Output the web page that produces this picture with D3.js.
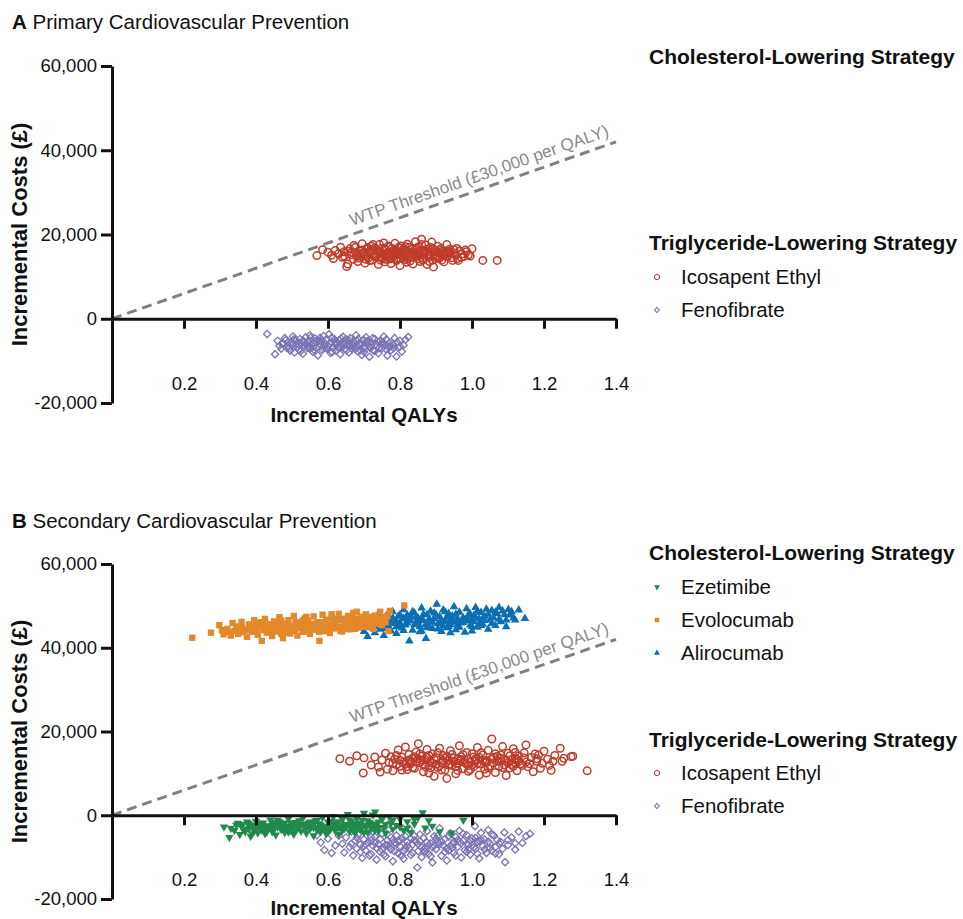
<!DOCTYPE html>
<html>
<head>
<meta charset="utf-8">
<style>
  body { margin: 0; background: #fff; }
  svg text { font-family: "Liberation Sans", Arial, sans-serif; fill: #111; }
  .axis path, .axis line { stroke: #111; stroke-width: 3; }
  .axis text { font-size: 18.5px; }
  .axis-title { font-size: 20.5px; font-weight: bold; }
  .y-title { font-size: 22px; }
  .panel-title { font-size: 20.5px; }
  .legend-head { font-size: 21px; font-weight: bold; }
  .legend-item { font-size: 20.5px; }
  .wtp-label { font-size: 17px; fill: #8a8a8a !important; }
</style>
<title></title>
</head>
<body>
<div id="chart"></div>
<script src="https://d3js.org/d3.v7.min.js"></script>
<script>
// ---- data (QALYs, costs in £ thousands) ----
var qalyTicks = [0.2, 0.4, 0.6, 0.8, 1.0, 1.2, 1.4];
var costTicks = [-20, 0, 20, 40, 60];
var wtpPerQaly = 30; // £30,000 per QALY
var wtpLabel = "WTP Threshold (£30,000 per QALY)";

// A: primary prevention
var primaryIcosapent = [
  [0.569,15.0],[0.585,16.4],[0.60,15.8],[0.61,15.1],[0.615,14.3],[0.62,16.2],[0.63,15.5],[0.635,17.0],[0.64,14.6],[0.645,15.9],
  [0.652,12.4],[0.655,13.0],[0.66,16.6],[0.665,15.2],[0.67,14.1],[0.672,17.4],[0.678,15.7],[0.683,13.6],[0.688,16.1],[0.69,14.8],
  [0.695,17.8],[0.70,15.3],[0.703,13.2],[0.708,16.5],[0.712,14.4],[0.715,15.9],[0.72,17.2],[0.722,13.9],[0.726,15.0],[0.73,16.8],
  [0.733,14.7],[0.737,15.6],[0.74,12.9],[0.743,17.6],[0.746,16.0],[0.75,14.2],[0.752,15.3],[0.755,18.0],[0.758,13.5],[0.76,16.4],
  [0.763,15.0],[0.766,14.6],[0.77,17.0],[0.772,15.8],[0.775,13.1],[0.778,16.7],[0.78,14.9],[0.783,15.5],[0.786,17.9],[0.79,13.8],
  [0.792,16.2],[0.795,14.4],[0.798,15.7],[0.80,12.6],[0.803,17.3],[0.806,15.1],[0.81,16.6],[0.812,14.0],[0.815,15.9],[0.818,13.4],
  [0.82,17.7],[0.823,15.4],[0.826,16.9],[0.83,14.5],[0.833,15.2],[0.836,13.0],[0.84,16.3],[0.843,18.3],[0.846,14.8],[0.85,15.6],
  [0.853,17.1],[0.856,13.6],[0.86,18.9],[0.862,16.0],[0.865,14.3],[0.868,15.3],[0.872,17.5],[0.875,12.9],[0.878,16.5],[0.88,14.7],
  [0.884,15.8],[0.888,18.2],[0.89,13.9],[0.893,12.3],[0.896,16.2],[0.90,15.0],[0.905,17.2],[0.91,14.4],[0.914,16.7],[0.918,15.4],
  [0.922,13.5],[0.926,16.0],[0.93,17.6],[0.934,14.9],[0.94,15.7],[0.946,13.85],[0.95,16.4],[0.955,15.1],[0.96,14.3],[0.962,13.85],
  [0.966,16.1],[0.972,15.4],[0.978,14.8],[0.985,15.9],[0.99,15.2],[1.0,16.6],[1.03,13.85],[1.07,13.85],
  [0.665,15.7],[0.68,14.9],[0.695,16.3],[0.705,14.1],[0.718,16.0],[0.728,14.9],[0.74,15.9],[0.748,14.8],[0.757,16.6],[0.765,15.6],
  [0.775,14.5],[0.782,16.2],[0.792,15.2],[0.80,16.8],[0.808,14.6],[0.817,16.3],[0.825,14.9],[0.835,16.6],[0.842,15.0],[0.852,14.2],
  [0.858,16.4],[0.867,15.8],[0.876,14.9],[0.885,16.9],[0.895,15.3],[0.903,14.6],[0.912,16.2],[0.92,14.9],[0.93,15.5],[0.938,16.5],
  [0.70,15.8],[0.735,16.4],[0.77,15.3],[0.805,15.8],[0.84,15.4],[0.87,16.2],[0.90,15.9],[0.76,14.1],[0.82,14.2],[0.88,15.2],
  [0.645,14.9],[0.655,16.0],[0.675,16.9],[0.685,14.4],[0.692,15.5],[0.71,16.9],[0.716,13.8],[0.724,16.3],[0.732,15.2],[0.745,13.9],
  [0.75,16.7],[0.762,15.3],[0.768,17.3],[0.773,14.2],[0.788,15.9],[0.796,16.9],[0.802,14.3],[0.811,15.4],[0.821,16.0],[0.828,13.7],
  [0.838,15.8],[0.848,16.9],[0.855,15.1],[0.863,13.9],[0.873,16.0],[0.882,13.6],[0.892,16.6],[0.898,14.2],[0.908,15.7],[0.916,13.9],
  [0.924,15.2],[0.935,16.0],[0.944,14.5],[0.952,15.6],[0.958,16.7],[0.97,14.6],[0.982,16.3],[0.995,14.9],[0.725,17.6],[0.815,17.1],
  [0.86,17.6],[0.79,14.1]
];
var primaryFenofibrate = [
  [0.431,-3.6],[0.453,-8.4],[0.46,-5.2],[0.465,-6.4],[0.47,-7.1],[0.475,-5.8],[0.48,-4.6],[0.485,-6.9],[0.49,-5.5],[0.495,-7.6],
  [0.50,-6.2],[0.503,-4.2],[0.507,-8.0],[0.51,-5.0],[0.514,-6.7],[0.518,-7.3],[0.522,-4.8],[0.526,-5.9],[0.53,-8.3],[0.534,-6.4],
  [0.538,-4.4],[0.542,-7.0],[0.546,-5.4],[0.55,-3.9],[0.553,-6.1],[0.557,-7.8],[0.56,-5.7],[0.564,-4.7],[0.568,-6.8],[0.572,-8.7],
  [0.575,-5.2],[0.58,-6.3],[0.584,-7.4],[0.588,-4.1],[0.592,-5.9],[0.596,-7.0],[0.60,-6.5],[0.603,-3.7],[0.607,-8.1],[0.61,-5.5],
  [0.614,-6.9],[0.618,-4.9],[0.622,-7.6],[0.626,-6.0],[0.63,-5.1],[0.634,-8.4],[0.638,-6.6],[0.642,-4.3],[0.646,-7.2],[0.65,-5.8],
  [0.654,-6.3],[0.658,-8.0],[0.662,-4.6],[0.666,-7.0],[0.67,-5.4],[0.674,-6.8],[0.678,-3.9],[0.682,-7.7],[0.686,-5.9],[0.69,-6.4],
  [0.694,-8.6],[0.698,-5.0],[0.702,-7.1],[0.706,-4.4],[0.71,-6.1],[0.715,-9.0],[0.72,-5.6],[0.725,-7.4],[0.73,-4.8],[0.735,-6.6],
  [0.74,-8.2],[0.745,-5.3],[0.75,-7.0],[0.755,-4.2],[0.76,-6.3],[0.765,-8.7],[0.77,-5.7],[0.775,-7.5],[0.78,-6.0],[0.785,-4.6],
  [0.79,-8.95],[0.795,-6.9],[0.80,-5.2],[0.805,-7.8],[0.81,-6.3],[0.815,-5.0],[0.823,-4.35],
  [0.50,-5.6],[0.52,-6.3],[0.54,-5.9],[0.56,-6.6],[0.58,-5.4],[0.60,-7.2],[0.62,-6.1],[0.64,-5.6],[0.66,-6.2],[0.68,-5.2],
  [0.70,-6.7],[0.72,-6.2],[0.74,-5.6],[0.76,-7.2],[0.55,-7.1],[0.59,-6.6],[0.63,-7.0],[0.67,-6.0],[0.71,-5.3],[0.75,-6.1],
  [0.57,-5.1],[0.61,-4.5],[0.65,-4.9],[0.69,-7.5],[0.73,-7.7],[0.53,-5.1],[0.49,-6.5],[0.77,-6.8],
  [0.472,-6.0],[0.482,-5.1],[0.492,-7.0],[0.505,-4.9],[0.512,-6.0],[0.524,-7.7],[0.532,-5.5],[0.545,-6.5],[0.552,-4.5],[0.562,-7.4],
  [0.566,-5.4],[0.578,-4.5],[0.586,-6.9],[0.594,-5.0],[0.605,-6.0],[0.612,-7.9],[0.62,-5.5],[0.628,-6.7],[0.636,-4.7],[0.644,-6.0],
  [0.652,-7.5],[0.66,-5.2],[0.668,-6.5],[0.676,-7.2],[0.684,-4.8],[0.692,-5.8],[0.70,-7.9],[0.708,-5.4],[0.716,-6.8],[0.724,-4.6],
  [0.732,-6.0],[0.742,-7.0],[0.752,-5.5],[0.762,-4.9],[0.772,-6.4],[0.782,-7.0],[0.792,-5.6],[0.80,-6.6]
];

// B: secondary prevention
var secondaryIcosapent = [
  [0.633,13.5],[0.66,12.9],[0.68,14.2],[0.698,10.1],[0.70,13.7],[0.72,12.0],[0.73,13.9],[0.74,11.5],[0.745,10.3],[0.75,13.2],
  [0.76,14.8],[0.765,11.0],[0.77,12.6],[0.775,14.0],[0.78,10.6],[0.785,13.4],[0.79,12.1],[0.795,15.6],[0.80,11.7],[0.805,13.9],
  [0.81,12.8],[0.815,16.3],[0.82,10.9],[0.825,14.5],[0.83,12.3],[0.835,13.6],[0.84,11.2],[0.845,15.1],[0.851,17.1],[0.855,12.6],
  [0.86,14.1],[0.865,10.4],[0.87,13.3],[0.875,15.7],[0.88,11.8],[0.885,12.9],[0.89,14.6],[0.895,9.3],[0.90,13.8],[0.905,11.4],
  [0.91,16.0],[0.915,12.5],[0.92,14.3],[0.925,10.8],[0.93,8.8],[0.935,13.1],[0.94,15.4],[0.945,11.9],[0.95,13.7],[0.955,9.9],
  [0.96,12.4],[0.965,16.6],[0.97,14.0],[0.975,11.1],[0.98,13.2],[0.985,15.0],[0.99,10.5],[0.995,12.7],[1.0,14.7],[1.005,11.6],
  [1.01,13.5],[1.015,16.2],[1.02,9.6],[1.025,12.2],[1.03,14.4],[1.035,11.0],[1.04,13.0],[1.045,15.5],[1.055,18.2],[1.06,12.5],
  [1.065,10.2],[1.07,14.1],[1.075,11.7],[1.08,13.6],[1.085,16.4],[1.09,12.0],[1.095,9.5],[1.10,14.8],[1.105,11.3],[1.11,13.2],
  [1.115,15.9],[1.12,12.6],[1.125,10.6],[1.13,14.2],[1.14,11.9],[1.145,13.7],[1.15,16.8],[1.16,12.3],[1.17,10.4],[1.175,14.6],
  [1.18,12.9],[1.19,11.2],[1.20,15.3],[1.21,13.4],[1.22,10.7],[1.23,14.3],[1.245,16.0],[1.25,12.9],[1.255,13.6],[1.275,14.0],
  [1.28,14.1],[1.32,10.6],
  [0.80,13.1],[0.83,12.8],[0.86,13.2],[0.89,12.4],[0.92,13.1],[0.95,12.8],[0.98,12.6],[1.01,12.9],[1.04,12.6],[1.07,13.0],
  [1.10,12.5],[1.13,12.9],[0.84,14.0],[0.87,11.6],[0.90,12.2],[0.93,14.1],[0.96,13.5],[0.99,11.9],[1.02,13.8],[1.05,11.8],
  [1.08,14.4],[1.11,12.1],[0.82,11.6],[0.85,13.5],[0.88,14.3],[0.91,11.8],[0.94,12.2],[0.97,13.3],[1.0,12.0],[1.03,13.1],
  [1.06,13.8],[1.09,13.4],[1.12,13.6],[0.78,12.4],[1.15,12.7],[1.18,13.5],
  [0.79,14.3],[0.805,10.8],[0.815,12.2],[0.825,13.2],[0.835,11.4],[0.845,12.9],[0.855,14.6],[0.865,12.1],[0.875,13.8],[0.885,11.3],
  [0.895,13.4],[0.905,14.9],[0.915,10.8],[0.925,13.6],[0.935,12.0],[0.945,14.5],[0.955,11.7],[0.965,13.0],[0.975,14.5],[0.985,12.2],
  [0.995,10.9],[1.005,13.9],[1.015,12.4],[1.025,14.9],[1.035,12.8],[1.045,11.3],[1.055,13.5],[1.065,14.7],[1.075,12.9],[1.085,11.4],
  [1.095,13.1],[1.105,14.2],[1.115,11.7],[1.125,13.3],[1.135,12.3],[1.145,14.9],[1.155,11.6],[1.165,13.8],[1.185,14.4],[1.195,12.4],
  [1.215,11.9],[1.225,12.9],[0.88,10.1],[0.96,10.7],[1.04,10.1],[1.12,15.0]
];
var secondaryFenofibrate = [
  [0.569,-4.8],[0.58,-6.5],[0.59,-8.3],[0.60,-5.6],[0.61,-9.0],[0.62,-7.2],[0.63,-4.9],[0.64,-6.8],[0.645,-8.9],[0.65,-5.3],
  [0.66,-7.6],[0.665,-3.9],[0.67,-9.6],[0.675,-6.1],[0.68,-8.0],[0.685,-4.6],[0.69,-7.0],[0.695,-10.2],[0.70,-5.8],[0.705,-8.4],
  [0.71,-6.5],[0.715,-3.6],[0.72,-9.3],[0.725,-7.3],[0.73,-5.1],[0.735,-10.6],[0.74,-6.9],[0.745,-8.7],[0.75,-4.4],[0.755,-7.7],
  [0.76,-9.8],[0.765,-6.0],[0.77,-3.4],[0.775,-8.2],[0.78,-11.0],[0.785,-6.6],[0.79,-4.8],[0.795,-9.1],[0.80,-7.4],[0.805,-5.5],
  [0.81,-10.4],[0.815,-8.0],[0.82,-6.3],[0.825,-3.2],[0.83,-9.5],[0.835,-7.0],[0.84,-4.9],[0.848,-12.5],[0.85,-8.6],[0.855,-6.2],
  [0.86,-10.0],[0.865,-5.4],[0.87,-7.8],[0.875,-3.8],[0.88,-9.2],[0.885,-6.7],[0.89,-11.3],[0.895,-5.0],[0.90,-8.1],[0.905,-6.4],
  [0.91,-3.1],[0.915,-9.7],[0.92,-7.2],[0.925,-5.6],[0.93,-10.8],[0.935,-8.4],[0.94,-4.3],[0.945,-6.8],[0.95,-9.0],[0.955,-5.2],
  [0.96,-7.6],[0.965,-3.7],[0.97,-10.1],[0.975,-6.1],[0.98,-8.3],[0.985,-4.7],[0.99,-7.0],[0.995,-9.4],[1.0,-5.5],[1.008,-2.6],
  [1.01,-8.0],[1.015,-6.3],[1.02,-10.3],[1.025,-4.2],[1.03,-7.4],[1.035,-5.8],[1.04,-9.0],[1.045,-3.5],[1.05,-6.8],[1.055,-8.5],
  [1.06,-4.8],[1.065,-7.6],[1.07,-5.9],[1.075,-9.3],[1.08,-6.4],[1.092,-11.2],[1.09,-4.1],[1.10,-7.1],[1.11,-5.3],[1.12,-8.2],
  [1.13,-3.9],[1.14,-6.6],[1.15,-5.0],[1.161,-4.4],
  [0.70,-7.3],[0.73,-6.6],[0.76,-7.1],[0.79,-6.8],[0.82,-7.3],[0.85,-6.9],[0.88,-7.1],[0.91,-6.9],[0.94,-7.4],[0.97,-6.7],
  [1.0,-7.2],[0.72,-6.0],[0.75,-8.2],[0.78,-5.9],[0.81,-8.6],[0.84,-6.0],[0.87,-8.7],[0.90,-5.7],[0.93,-7.9],[0.96,-5.9],
  [0.99,-8.1],[1.02,-6.1],[1.05,-7.8],[0.77,-7.6],[0.83,-5.6],[0.89,-7.6],[0.95,-6.3],[1.01,-5.4],[0.80,-6.1],[0.86,-7.6],
  [0.665,-6.8],[0.68,-5.4],[0.69,-8.8],[0.705,-7.0],[0.715,-9.6],[0.72,-5.2],[0.735,-7.8],[0.745,-5.7],[0.755,-9.4],[0.765,-7.1],
  [0.775,-5.3],[0.785,-8.6],[0.795,-6.2],[0.805,-9.6],[0.815,-5.0],[0.825,-7.9],[0.835,-9.0],[0.845,-6.4],[0.855,-4.6],[0.865,-8.2],
  [0.875,-6.5],[0.885,-9.8],[0.895,-7.3],[0.905,-4.9],[0.915,-6.3],[0.925,-8.8],[0.935,-5.1],[0.945,-7.7],[0.955,-9.6],[0.965,-6.3],
  [0.975,-4.4],[0.985,-8.8],[0.995,-6.1],[1.005,-7.7],[1.015,-9.2],[1.025,-5.9],[1.035,-8.2],[1.045,-6.3],[1.055,-4.6],[1.065,-9.1],
  [1.075,-6.7],[1.085,-8.0],[1.10,-5.9],[1.12,-6.7]
];
var secondaryEzetimibe = [
  [0.311,-2.8],[0.326,-5.3],[0.34,-3.6],[0.35,-1.9],[0.355,-4.6],[0.36,-2.7],[0.37,-3.9],[0.375,-1.6],[0.38,-3.2],[0.385,-5.0],
  [0.39,-2.3],[0.395,-3.7],[0.40,-1.4],[0.405,-4.2],[0.41,-2.9],[0.415,-3.5],[0.42,-1.8],[0.425,-4.4],[0.43,-2.5],[0.435,-3.1],
  [0.44,-1.1],[0.445,-3.9],[0.45,-2.2],[0.455,-4.7],[0.46,-2.8],[0.465,-1.5],[0.47,-3.4],[0.475,-2.0],[0.48,-4.1],[0.485,-2.6],
  [0.49,-0.9],[0.495,-3.6],[0.50,-2.3],[0.505,-4.5],[0.51,-1.7],[0.515,-3.0],[0.52,-2.1],[0.525,-3.8],[0.53,-0.7],[0.535,-2.7],
  [0.54,-4.3],[0.545,-1.9],[0.55,-3.3],[0.555,-2.4],[0.56,-4.9],[0.565,-1.3],[0.57,-3.1],[0.575,-2.0],[0.58,-3.9],[0.585,-0.5],
  [0.59,-2.8],[0.595,-4.4],[0.60,-1.6],[0.605,-3.5],[0.61,-2.2],[0.615,-0.3],[0.62,-3.7],[0.625,-1.8],[0.63,-4.6],[0.635,-2.5],
  [0.64,-1.0],[0.645,-3.2],[0.65,-2.1],[0.655,0.2],[0.66,-3.9],[0.665,-1.5],[0.67,-2.9],[0.675,-4.2],[0.68,-0.8],[0.685,-2.4],
  [0.69,-3.5],[0.695,-1.2],[0.70,0.5],[0.705,-2.7],[0.71,-4.0],[0.715,-1.7],[0.72,-3.1],[0.725,0.1],[0.731,0.8],[0.735,-2.2],
  [0.74,-3.8],[0.75,-1.0],[0.755,-2.9],[0.76,-4.3],[0.77,-0.4],[0.775,-1.9],[0.78,-3.3],[0.79,-2.4],[0.80,-0.9],[0.81,-3.6],
  [0.82,-1.5],[0.83,-4.1],[0.84,-2.1],[0.85,-0.6],[0.863,0.65],[0.87,-3.0],[0.88,-1.3],[0.89,-2.6],[0.91,-3.9],[0.943,-4.2],
  [0.976,-1.2],
  [0.40,-2.6],[0.43,-2.9],[0.46,-2.2],[0.49,-2.7],[0.52,-2.9],[0.55,-2.6],[0.58,-2.3],[0.61,-2.9],[0.64,-2.4],[0.67,-2.2],
  [0.70,-2.3],[0.73,-2.6],[0.42,-3.4],[0.45,-1.7],[0.48,-3.0],[0.51,-2.5],[0.54,-2.3],[0.57,-3.5],[0.60,-2.6],[0.63,-3.0],
  [0.66,-2.6],[0.69,-1.9],[0.72,-2.0],[0.44,-2.6],[0.50,-1.8],[0.56,-1.9],[0.62,-2.0],[0.68,-3.0],[0.74,-2.9],[0.38,-2.4],
  [0.36,-2.2],
  [0.33,-3.1],[0.345,-2.3],[0.365,-3.4],[0.38,-1.9],[0.39,-4.4],[0.40,-3.2],[0.41,-1.9],[0.42,-2.8],[0.43,-4.0],[0.44,-2.9],
  [0.45,-3.4],[0.46,-1.2],[0.47,-2.6],[0.48,-1.8],[0.49,-4.0],[0.50,-3.0],[0.51,-3.8],[0.52,-1.3],[0.53,-2.2],[0.54,-3.0],
  [0.55,-1.6],[0.56,-2.9],[0.57,-1.2],[0.58,-2.7],[0.59,-3.4],[0.60,-4.0],[0.61,-1.4],[0.62,-2.5],[0.63,-1.5],[0.64,-3.6],
  [0.65,-2.8],[0.66,-1.1],[0.67,-3.4],[0.68,-2.0],[0.69,-2.8],[0.70,-4.1],[0.71,-1.3],[0.72,-2.6],[0.73,-3.6],[0.74,-1.6],
  [0.76,-2.2],[0.78,-1.1],[0.80,-2.8],[0.82,-3.1],[0.84,-1.0]
];
var secondaryEvolocumab = [
  [0.223,42.4],[0.275,43.6],[0.298,45.4],[0.31,43.2],[0.32,44.5],[0.33,42.9],[0.335,45.9],[0.34,44.0],[0.35,43.3],[0.355,45.1],
  [0.36,46.2],[0.37,44.4],[0.375,42.6],[0.38,45.6],[0.39,43.8],[0.395,46.6],[0.40,44.9],[0.405,43.1],[0.41,45.7],[0.416,41.65],
  [0.42,44.2],[0.425,46.9],[0.43,43.6],[0.435,45.3],[0.44,44.6],[0.445,42.8],[0.45,46.3],[0.455,45.0],[0.46,43.9],[0.465,47.3],
  [0.47,44.7],[0.475,42.3],[0.48,45.8],[0.485,44.1],[0.49,46.6],[0.495,43.4],[0.50,45.2],[0.505,47.6],[0.51,44.5],[0.515,42.9],
  [0.52,46.0],[0.525,45.4],[0.53,43.8],[0.535,47.0],[0.54,44.9],[0.545,46.4],[0.55,43.3],[0.555,45.7],[0.56,47.5],[0.565,44.3],
  [0.57,46.1],[0.576,41.65],[0.58,45.1],[0.585,47.9],[0.59,44.0],[0.595,46.7],[0.60,45.5],[0.605,43.5],[0.61,47.2],[0.615,45.9],
  [0.62,44.6],[0.625,46.5],[0.63,48.1],[0.635,45.0],[0.64,43.9],[0.645,46.9],[0.65,45.6],[0.655,47.6],[0.66,44.4],[0.665,46.2],
  [0.67,48.3],[0.675,45.3],[0.68,46.8],[0.685,44.8],[0.69,47.4],[0.695,45.9],[0.70,46.4],[0.705,48.0],[0.71,45.1],[0.715,47.0],
  [0.72,46.3],[0.725,44.5],[0.73,47.7],[0.735,45.8],[0.74,46.9],[0.745,48.6],[0.75,45.4],[0.755,47.3],[0.76,46.1],[0.768,43.97],
  [0.772,48.8],[0.812,50.1],
  [0.35,44.4],[0.38,44.2],[0.41,44.7],[0.44,45.6],[0.47,45.4],[0.50,44.3],[0.53,45.1],[0.56,45.0],[0.59,45.4],[0.62,45.6],
  [0.65,46.2],[0.68,45.7],[0.71,46.6],[0.74,46.1],[0.36,45.0],[0.46,44.9],[0.52,44.8],[0.58,46.1],[0.64,46.7],[0.70,45.3],
  [0.42,45.5],[0.48,43.6],[0.54,45.9],[0.60,44.8],[0.66,45.5],[0.72,47.4],[0.39,45.0],[0.45,43.9],[0.51,46.1],[0.57,44.6],
  [0.63,46.9],[0.69,46.1],
  [0.305,44.2],[0.325,43.8],[0.345,45.0],[0.365,43.7],[0.385,44.9],[0.40,43.9],[0.415,46.1],[0.43,44.9],[0.445,44.0],[0.455,46.0],
  [0.47,43.3],[0.48,44.7],[0.49,45.4],[0.505,44.0],[0.515,45.7],[0.53,46.5],[0.54,43.9],[0.55,44.8],[0.565,45.6],[0.575,43.8],
  [0.59,46.0],[0.60,44.0],[0.61,45.0],[0.62,46.9],[0.635,44.0],[0.645,45.4],[0.655,44.6],[0.665,47.2],[0.675,44.5],[0.685,46.1],
  [0.695,47.0],[0.705,45.0],[0.715,46.0],[0.725,45.9],[0.735,47.2],[0.745,45.6],[0.755,46.5],[0.765,47.5],[0.61,48.0],[0.54,47.4],
  [0.47,46.5],[0.40,46.0],[0.68,48.6]
];
var secondaryAlirocumab = [
  [0.70,43.9],[0.705,45.7],[0.71,42.7],[0.715,46.3],[0.72,44.8],[0.725,47.0],[0.73,43.6],[0.735,45.5],[0.74,48.1],[0.745,44.4],
  [0.75,46.2],[0.755,42.9],[0.76,47.3],[0.765,45.1],[0.77,46.8],[0.775,44.0],[0.78,48.6],[0.785,45.8],[0.79,43.4],[0.795,47.5],
  [0.80,46.0],[0.805,44.7],[0.81,49.1],[0.815,45.4],[0.82,47.8],[0.826,41.6],[0.83,46.4],[0.835,44.2],[0.84,48.3],[0.845,45.9],
  [0.85,47.1],[0.855,43.8],[0.86,49.5],[0.865,46.5],[0.872,42.2],[0.875,47.9],[0.88,45.2],[0.885,48.7],[0.89,44.6],[0.895,46.9],
  [0.902,50.4],[0.905,45.7],[0.91,47.4],[0.915,43.9],[0.92,49.0],[0.925,46.2],[0.93,44.8],[0.935,48.2],[0.94,45.5],[0.945,47.6],
  [0.95,49.8],[0.955,44.3],[0.96,46.8],[0.965,48.5],[0.97,45.9],[0.975,47.2],[0.98,43.7],[0.985,49.3],[0.99,46.4],[0.995,48.0],
  [1.0,45.1],[1.005,47.7],[1.01,49.6],[1.015,44.9],[1.02,46.9],[1.025,48.4],[1.03,45.6],[1.035,47.5],[1.04,49.2],[1.045,44.4],
  [1.05,46.7],[1.055,48.9],[1.06,47.1],[1.065,45.3],[1.07,48.1],[1.075,49.6],[1.08,46.2],[1.09,47.9],[1.095,45.0],[1.101,49.15],
  [1.11,48.6],[1.12,46.6],[1.13,49.0],[1.147,47.0],
  [0.76,45.9],[0.79,46.4],[0.82,45.9],[0.85,46.2],[0.88,46.8],[0.91,45.9],[0.94,46.7],[0.97,46.2],[1.0,46.9],[1.03,47.0],
  [0.78,47.1],[0.81,47.0],[0.84,45.5],[0.87,45.4],[0.90,47.9],[0.93,47.3],[0.96,45.5],[0.99,47.8],[1.02,45.8],[0.77,44.9],
  [0.80,45.2],[0.83,47.5],[0.86,46.9],[0.89,46.1],[0.92,45.2],[0.95,46.3],[0.98,46.6],[1.01,47.3],[0.75,45.3],[0.74,46.6],
  [0.73,45.0],
  [0.72,46.0],[0.735,47.2],[0.75,44.6],[0.765,47.9],[0.775,46.1],[0.79,45.0],[0.80,47.9],[0.81,44.1],[0.82,46.6],[0.835,48.6],
  [0.845,47.3],[0.855,45.1],[0.865,48.0],[0.875,44.8],[0.885,46.4],[0.895,48.3],[0.905,44.5],[0.915,46.6],[0.925,48.6],[0.935,45.1],
  [0.945,46.1],[0.955,48.0],[0.965,44.9],[0.975,46.0],[0.985,47.0],[0.995,45.4],[1.005,46.2],[1.015,48.7],[1.025,45.3],[1.035,46.5],
  [1.045,48.0],[1.055,45.8],[1.065,48.5],[1.075,46.8],[1.085,48.8],[1.095,46.6],[1.105,47.8],[1.115,47.1],[0.86,44.0],[0.94,43.6],
  [1.0,44.0]
];

var panelTitles = [["A", " Primary Cardiovascular Prevention"], ["B", " Secondary Cardiovascular Prevention"]];
var cholHead = "Cholesterol-Lowering Strategy";
var trigHead = "Triglyceride-Lowering Strategy";

// ---- styles per series ----
var red = "#bf3b2b", purple = "#7a74b6", green = "#1f8a4c", orange = "#e3882b", blue = "#0b6fb4";
var styles = {
  "Icosapent Ethyl": {type: d3.symbolCircle, size: 44, color: red, fill: false, rot: 0, sw: 1.5},
  "Fenofibrate":     {type: d3.symbolSquare, size: 26, color: purple, fill: false, rot: 45, sw: 1.3},
  "Ezetimibe":       {type: d3.symbolTriangle, size: 30, color: green, fill: true, rot: 180},
  "Evolocumab":      {type: d3.symbolSquare, size: 40, color: orange, fill: true, rot: 0},
  "Alirocumab":      {type: d3.symbolTriangle, size: 32, color: blue, fill: true, rot: 0}
};

var svg = d3.select("#chart").append("svg")
  .attr("width", 963)
  .attr("height", 919);

var fmt = d3.formatLocale({decimal: ".", thousands: ",", grouping: [3], currency: ["£", ""], minus: "-"}).format(",");

var x = d3.scaleLinear().domain([0, 1.4]).range([112, 616]);

function drawPanel(p) {
  var y = d3.scaleLinear().domain([-20, 60]).range([p.bottom, p.top]);
  var g = svg.append("g");

  // title
  var t = g.append("text").attr("class", "panel-title").attr("x", 12).attr("y", p.titleY);
  t.append("tspan").style("font-weight", "bold").text(p.title[0]);
  t.append("tspan").text(p.title[1]);

  // WTP threshold line
  var wtp = [[0, 0], [1.4, 1.4 * wtpPerQaly]];
  g.append("path")
    .attr("d", d3.line().x(function(d){return x(d[0]);}).y(function(d){return y(d[1]);})(wtp))
    .attr("fill", "none")
    .attr("stroke", "#808080")
    .attr("stroke-width", 3)
    .attr("stroke-dasharray", "10,6");

  var ang = Math.atan2(y(0) - y(1.4 * wtpPerQaly), x(1.4) - x(0)) * 180 / Math.PI;
  var lx = x(1.39), ly = y(1.39 * wtpPerQaly);
  g.append("text")
    .attr("class", "wtp-label")
    .attr("text-anchor", "end")
    .attr("transform", "translate(" + lx + "," + ly + ") rotate(" + (-ang) + ") translate(0,-8)")
    .text(wtpLabel);

  // points
  p.series.forEach(function(s){
    var st = styles[s.name];
    var sym = d3.symbol().type(st.type).size(st.size);
    g.append("g").selectAll("path")
      .data(s.data)
      .enter()
      .append("path")
      .attr("d", sym)
      .attr("transform", function(d){ return "translate(" + x(d[0]) + "," + y(d[1]) + ") rotate(" + st.rot + ")"; })
      .attr("fill", st.fill ? st.color : "none")
      .attr("stroke", st.fill ? "none" : st.color)
      .attr("stroke-width", st.sw || 1);
  });

  // axes
  g.append("g").attr("class", "axis")
    .attr("transform", "translate(112,0)")
    .call(d3.axisLeft(y).tickValues(costTicks).tickSize(11).tickSizeOuter(0).tickPadding(4)
      .tickFormat(function(d){ return fmt(d * 1000); }));
  g.append("g").attr("class", "axis")
    .attr("transform", "translate(0," + y(0) + ")")
    .call(d3.axisBottom(x).tickValues(qalyTicks).tickSize(10).tickSizeOuter(0).tickPadding(48)
      .tickFormat(d3.format(".1f")));
  g.selectAll(".axis text").attr("font-size", null).attr("font-family", null);

  // axis titles
  g.append("text").attr("class", "axis-title")
    .attr("text-anchor", "middle")
    .attr("x", (x(0) + x(1.4)) / 2)
    .attr("y", y(-20) + p.xTitleGap)
    .text("Incremental QALYs");
  g.append("text").attr("class", "axis-title y-title")
    .attr("text-anchor", "middle")
    .attr("transform", "translate(27," + (p.top + p.bottom) / 2 + ") rotate(-90)")
    .text("Incremental Costs (£)");

  // legend
  g.append("text").attr("class", "legend-head").attr("x", 649).attr("y", p.cholY).attr("dy", "0.35em").text(cholHead);
  g.append("text").attr("class", "legend-head").attr("x", 649).attr("y", p.trigY).attr("dy", "0.35em").text(trigHead);
  p.legend.forEach(function(item){
    var st = styles[item[0]];
    g.append("path")
      .attr("d", d3.symbol().type(st.type).size(st.size * 0.5))
      .attr("transform", "translate(657," + item[1] + ") rotate(" + st.rot + ")")
      .attr("fill", st.fill ? st.color : "none")
      .attr("stroke", st.fill ? "none" : st.color)
      .attr("stroke-width", 1);
    g.append("text").attr("class", "legend-item").attr("x", 681).attr("y", item[1]).attr("dy", "0.35em").text(item[0]);
  });
}

drawPanel({
  title: panelTitles[0], titleY: 29, top: 66, bottom: 403, cholY: 57, trigY: 243, xTitleGap: 19,
  series: [
    {name: "Fenofibrate", data: primaryFenofibrate},
    {name: "Icosapent Ethyl", data: primaryIcosapent}
  ],
  legend: [["Icosapent Ethyl", 277], ["Fenofibrate", 310]]
});

drawPanel({
  title: panelTitles[1], titleY: 528, top: 564, bottom: 899, cholY: 553, trigY: 740, xTitleGap: 16,
  series: [
    {name: "Icosapent Ethyl", data: secondaryIcosapent},
    {name: "Fenofibrate", data: secondaryFenofibrate},
    {name: "Ezetimibe", data: secondaryEzetimibe},
    {name: "Alirocumab", data: secondaryAlirocumab},
    {name: "Evolocumab", data: secondaryEvolocumab}
  ],
  legend: [["Ezetimibe", 587], ["Evolocumab", 620], ["Alirocumab", 653], ["Icosapent Ethyl", 773], ["Fenofibrate", 806]]
});
</script>
</body>
</html>
